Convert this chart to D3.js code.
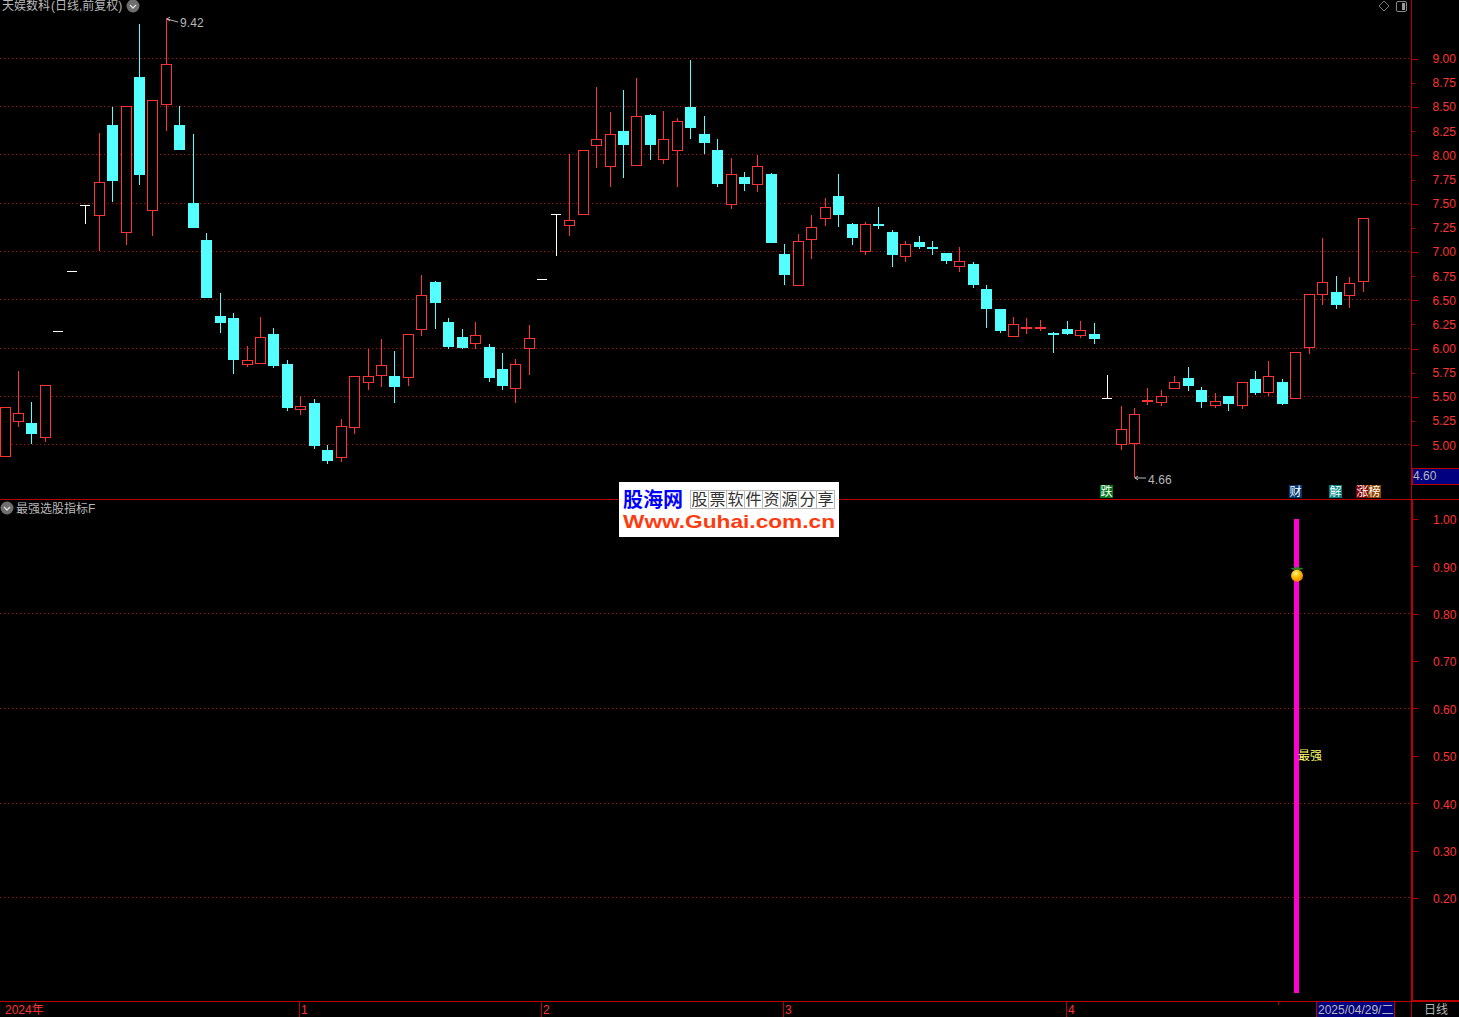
<!DOCTYPE html>
<html><head><meta charset="utf-8">
<script src="https://cdn.jsdelivr.net/npm/d3@7/dist/d3.min.js"></script>
<style>
html,body{margin:0;padding:0;background:#000;overflow:hidden}
svg{display:block}
text{font-family:"Liberation Sans","Noto Sans CJK SC",sans-serif}
</style></head><body>
<svg id="c" width="1459" height="1017"></svg>
<script>
const opens=[4.89,5.25,5.23,5.08,6.18,6.80,7.48,7.38,8.31,7.20,8.81,7.43,8.53,8.31,7.51,7.12,6.34,6.31,5.84,5.85,6.15,5.84,5.37,5.44,4.95,4.88,5.19,5.65,5.73,5.71,5.70,6.20,6.69,6.27,6.12,6.06,6.02,5.79,5.59,6.00,6.72,7.39,7.28,7.39,8.10,7.89,8.25,7.90,8.42,7.96,8.05,8.50,8.22,8.05,7.49,7.77,7.70,7.81,6.98,6.66,7.13,7.35,7.58,7.29,7.01,7.29,7.20,6.96,7.10,7.05,6.99,6.85,6.87,6.61,6.41,6.13,6.20,6.20,6.16,6.20,6.14,6.15,5.49,5.01,5.02,5.45,5.45,5.59,5.69,5.57,5.42,5.51,5.42,5.68,5.55,5.65,5.49,6.02,6.56,6.58,6.55,6.70];
const closes=[5.39,5.33,5.12,5.62,6.18,6.80,7.48,7.72,7.73,8.51,7.79,8.57,8.94,8.05,7.25,6.52,6.26,5.88,5.88,6.12,5.82,5.38,5.40,4.99,4.84,5.20,5.72,5.72,5.83,5.60,6.15,6.55,6.47,6.02,6.00,6.14,5.69,5.61,5.84,6.11,6.72,7.39,7.33,8.05,8.17,8.22,8.10,8.40,8.11,8.17,8.35,8.28,8.13,7.70,7.81,7.70,7.89,7.09,6.76,7.11,7.26,7.46,7.38,7.14,7.29,7.27,6.97,7.08,7.05,7.03,6.90,6.90,6.66,6.41,6.18,6.25,6.22,6.22,6.14,6.15,6.19,6.10,5.49,5.17,5.32,5.47,5.51,5.65,5.61,5.45,5.46,5.43,5.65,5.54,5.72,5.43,5.96,6.56,6.69,6.45,6.68,7.35];
const highs=[5.39,5.77,5.45,5.62,6.18,6.80,7.48,8.23,8.50,8.51,9.36,8.57,9.42,8.51,8.22,7.19,6.57,6.37,6.03,6.33,6.21,5.88,5.51,5.48,5.00,5.27,5.72,5.99,6.10,5.97,6.15,6.76,6.70,6.31,6.20,6.27,6.05,5.95,5.89,6.24,6.72,7.39,8.01,8.05,8.70,8.45,8.67,8.80,8.43,8.46,8.38,8.98,8.41,8.17,7.97,7.83,8.00,7.82,7.08,7.18,7.38,7.56,7.80,7.30,7.31,7.46,7.23,7.11,7.16,7.11,6.99,7.05,6.89,6.66,6.41,6.33,6.31,6.29,6.17,6.28,6.28,6.26,5.73,5.40,5.38,5.59,5.57,5.72,5.81,5.60,5.54,5.51,5.65,5.77,5.87,5.68,5.96,6.56,7.14,6.75,6.74,7.35];
const lows=[4.89,5.19,5.01,5.03,6.18,6.80,7.29,7.01,7.52,7.07,7.69,7.16,8.25,8.05,7.25,6.52,6.16,5.74,5.81,5.85,5.80,5.35,5.31,4.96,4.80,4.83,5.12,5.57,5.60,5.44,5.61,6.13,6.20,5.99,5.99,5.99,5.65,5.57,5.44,5.73,6.72,6.96,7.16,7.39,7.87,7.67,7.76,7.90,7.95,7.91,7.67,8.17,8.01,7.67,7.44,7.63,7.62,7.09,6.66,6.66,6.93,7.27,7.26,7.07,6.97,7.24,6.84,6.89,7.03,6.97,6.87,6.79,6.63,6.21,6.16,6.13,6.15,6.18,5.95,6.14,6.11,6.05,5.49,4.95,4.66,5.42,5.40,5.59,5.56,5.38,5.38,5.35,5.37,5.52,5.51,5.41,5.49,5.94,6.45,6.41,6.42,6.58];
const priceTicks=[9,8.75,8.5,8.25,8,7.75,7.5,7.25,7,6.75,6.5,6.25,6,5.75,5.5,5.25,5];
const priceGrid=[9,8.5,8,7.5,7,6.5,6,5.5,5];
const indTicks=[1,0.9,0.8,0.7,0.6,0.5,0.4,0.3,0.2];
const indGrid=[0.8,0.6,0.4,0.2];
const signalIndex=[96];
const signalValues=[1];
const monthTicks=[{i:22,t:"1"},{i:40,t:"2"},{i:58,t:"3"},{i:79,t:"4"}];
const markers=[{x:1100,t:"跌",c:"#007a1e"},{x:1289,t:"财",c:"#00396f"},{x:1329,t:"解",c:"#008080"},{x:1356,t:"涨",c:"#800000"},{x:1368,t:"榜",c:"#8a4500"}];
const logoChars=["股","票","软","件","资","源","分","享"];

const RED="#ff3333",CYAN="#54ffff",AXIS="#b80000",GRID="#c80000",GREY="#b8b8b8",NAVY="#000080";
const svg=d3.select("#c");
const x=d3.scaleLinear().domain([0,101]).range([5,1363.05]);
const y=d3.scaleLinear().domain([5,9]).range([445.3,58.7]);
const y2=d3.scaleLinear().domain([0,1]).range([992.7,519]);
const col=i=>Math.floor(x(i));
const py=v=>Math.round(y(v)-0.2);

// grid
function grid(data,sc,off){
  svg.append("g").attr("shape-rendering","crispEdges").selectAll("line").data(data).enter().append("line")
    .attr("x1",0).attr("x2",1411).attr("y1",d=>Math.floor(sc(d)-off)+.5).attr("y2",d=>Math.floor(sc(d)-off)+.5)
    .attr("stroke",GRID).attr("stroke-dasharray","1 3");
}
grid(priceGrid,y,0.4);grid(indGrid,y2,0);

// candles
const g=svg.append("g").attr("shape-rendering","crispEdges");
d3.range(opens.length).forEach(i=>{
  const o=opens[i],c=closes[i],h=highs[i],l=lows[i];
  const up=c>o,flat=c===o;
  const color=flat?"#ffffff":up?RED:CYAN;
  const yt=py(Math.max(o,c)),yb=py(Math.min(o,c)),X=col(i);
  g.append("rect").attr("x",X).attr("width",1).attr("y",py(h)).attr("height",Math.max(0,yt-py(h))).attr("fill",color);
  g.append("rect").attr("x",X).attr("width",1).attr("y",yb).attr("height",Math.max(0,py(l)-yb)).attr("fill",color);
  if(flat){
    g.append("rect").attr("x",X-5).attr("width",10).attr("y",yt).attr("height",1).attr("fill",color);
  }else if(up&&yb-yt>=3){
    g.append("rect").attr("x",X-4.5).attr("width",10).attr("y",yt+.5).attr("height",yb-yt).attr("fill","#000").attr("stroke",color);
  }else{
    g.append("rect").attr("x",X-5).attr("width",11).attr("y",yt).attr("height",Math.max(2,yb-yt)).attr("fill",color);
  }
});

// annotations
const ann=svg.append("g").attr("fill",GREY).attr("font-size",12);
const hi=d3.max(highs),lo=d3.min(lows),hiI=highs.indexOf(hi),loI=lows.indexOf(lo);
const arrow=(i,v,tx,ty,slope)=>{
  const X=col(i)+1,Y=py(v)+(slope?1:0);
  ann.append("path").attr("d",`M${X+3} ${Y-2}L${X} ${Y}L${X+3} ${Y+2}M${X} ${Y}L${X+11} ${Y+slope}`).attr("stroke",GREY).attr("fill","none");
  ann.append("text").attr("x",tx).attr("y",ty).attr("letter-spacing",0.1).text(v.toFixed(2));
};
arrow(hiI,hi,180,27,3);
arrow(loI,lo,1148,484,0);

// signal bar
svg.append("g").attr("shape-rendering","crispEdges").selectAll("rect").data(signalIndex).enter().append("rect")
  .attr("x",i=>col(i)-1).attr("width",5)
  .attr("y",(d,k)=>y2(signalValues[k])).attr("height",(d,k)=>y2(0)-y2(signalValues[k])).attr("fill","#ff00d0");
const defs=svg.append("defs");
const rg=defs.append("radialGradient").attr("id","fr").attr("cx","40%").attr("cy","30%").attr("r","70%");
rg.append("stop").attr("offset","0").attr("stop-color","#fff2a0");
rg.append("stop").attr("offset",".45").attr("stop-color","#ffc400");
rg.append("stop").attr("offset","1").attr("stop-color","#f08000");
const fx=col(96)+2,fy=y2(0.88);
svg.append("path").attr("d",`M${fx-7} ${fy-7}L${fx} ${fy-9}L${fx} ${fy-5}ZM${fx+7} ${fy-7}L${fx} ${fy-9}L${fx} ${fy-5}Z`).attr("fill","#2f7a20");
svg.append("circle").attr("cx",fx).attr("cy",fy).attr("r",6).attr("fill","url(#fr)");
svg.append("text").attr("x",1298).attr("y",y2(0.5)+4).attr("fill","#ffff70").attr("font-size",12).text("最强");

// axes
const axisG=(sc,ticks)=>d3.axisRight(sc).tickValues(ticks).tickSize(6).tickPadding(15).tickFormat(d3.format(".2f"));
const ax1=svg.append("g").attr("transform","translate(1411.5,0)").call(axisG(y,priceTicks));
const ax2=svg.append("g").attr("transform","translate(1412,0)").call(axisG(y2,indTicks));
[ax1,ax2].forEach(a=>{
  a.select(".domain").remove();
  a.selectAll("line").attr("stroke",AXIS).attr("shape-rendering","crispEdges");
  a.selectAll("text").attr("fill",RED).attr("font-size",12).attr("font-family","Liberation Sans");
});
ax2.selectAll("text").attr("y",1);
ax1.selectAll(".tick").filter(d=>!priceGrid.includes(d)).select("line").attr("x2",3);
const lines=svg.append("g").attr("shape-rendering","crispEdges").attr("fill",AXIS);
lines.append("rect").attr("x",1411).attr("y",0).attr("width",1).attr("height",499);
lines.append("rect").attr("x",1411).attr("y",500).attr("width",2).attr("height",501);
lines.append("rect").attr("x",0).attr("y",499).attr("width",1459).attr("height",1);
lines.append("rect").attr("x",0).attr("y",1001).attr("width",1411).attr("height",1);
lines.append("rect").attr("x",1411).attr("y",1000).attr("width",48).attr("height",2);
lines.append("rect").attr("x",1411).attr("y",1002).attr("width",1).attr("height",15);

// x axis
const xa=svg.append("g");
xa.append("text").attr("x",5).attr("y",1014).attr("fill",RED).attr("font-size",12).text("2024年");
monthTicks.forEach(m=>{
  const X=col(m.i)-1;
  xa.append("rect").attr("x",X).attr("y",1002).attr("width",1).attr("height",15).attr("fill",AXIS);
  xa.append("text").attr("x",X+2).attr("y",1014).attr("fill",RED).attr("font-size",12).text(m.t);
});
xa.append("rect").attr("x",1278).attr("y",1002).attr("width",1).attr("height",3).attr("fill",AXIS);
xa.append("rect").attr("x",1316).attr("y",1002).attr("width",78).attr("height",15).attr("fill",NAVY);
xa.append("rect").attr("x",1316).attr("y",1002).attr("width",1).attr("height",15).attr("fill",AXIS);
xa.append("rect").attr("x",1394).attr("y",1002).attr("width",1).attr("height",15).attr("fill",AXIS);
xa.append("text").attr("x",1318).attr("y",1014).attr("fill",GREY).attr("font-size",12).text("2025/04/29/二");
xa.append("text").attr("x",1424).attr("y",1014).attr("fill",GREY).attr("font-size",12).text("日线");

// price box
svg.append("rect").attr("x",1412).attr("y",468).attr("width",47).attr("height",16).attr("fill",NAVY).attr("stroke",AXIS).attr("shape-rendering","crispEdges");
svg.append("text").attr("x",1413).attr("y",480).attr("fill",GREY).attr("font-size",12).text("4.60");

// event markers
markers.forEach(m=>{
  svg.append("rect").attr("x",m.x).attr("y",485).attr("width",13).attr("height",13).attr("fill",m.c);
  svg.append("text").attr("x",m.x+.5).attr("y",496).attr("fill","#fff").attr("font-size",12).text(m.t);
});

// titles
const chev=(cx,cy)=>{
  svg.append("circle").attr("cx",cx).attr("cy",cy).attr("r",6.5).attr("fill","#6e6e6e");
  svg.append("path").attr("d",`M${cx-3} ${cy-1}L${cx} ${cy+2}L${cx+3} ${cy-1}`).attr("fill","none").attr("stroke","#ddd").attr("stroke-width",1.4);
};
svg.append("text").attr("x",2).attr("y",10).attr("fill",GREY).attr("font-size",12).text("天娱数科");
svg.append("text").attr("x",51).attr("y",10).attr("fill",GREY).attr("font-size",12).text("(日线,前复权)");
chev(133,6);
chev(7,508);
svg.append("text").attr("x",16).attr("y",513).attr("fill",GREY).attr("font-size",12).text("最强选股指标F");
svg.append("path").attr("d","M1384 1L1389 6L1384 11L1379 6Z").attr("fill","none").attr("stroke","#777");
svg.append("rect").attr("x",1396.5).attr("y",1.5).attr("width",10).attr("height",10).attr("rx",1.5).attr("fill","none").attr("stroke","#888");
svg.append("rect").attr("x",1402).attr("y",3).attr("width",3).attr("height",7).attr("fill","#999");

// logo
const lg=svg.append("g");
lg.append("rect").attr("x",619).attr("y",482).attr("width",220).attr("height",55).attr("fill","#fff");
lg.append("text").attr("x",623).attr("y",507).attr("fill","#0000ff").attr("font-size",20).attr("font-weight",700).text("股海网");
logoChars.forEach((c,k)=>{
  const X=690+k*18;
  lg.append("rect").attr("x",X+.5).attr("y",490.5).attr("width",18).attr("height",18).attr("fill","#fff").attr("stroke","#bbb");
  lg.append("text").attr("x",X+1.5).attr("y",505).attr("fill","#333").attr("font-size",16).text(c);
});
lg.append("text").attr("x",623).attr("y",528).attr("fill","#ff3c10").attr("font-size",18.5).attr("font-weight",700).attr("textLength",212).attr("lengthAdjust","spacingAndGlyphs").text("Www.Guhai.com.cn");
</script>
</body></html>
